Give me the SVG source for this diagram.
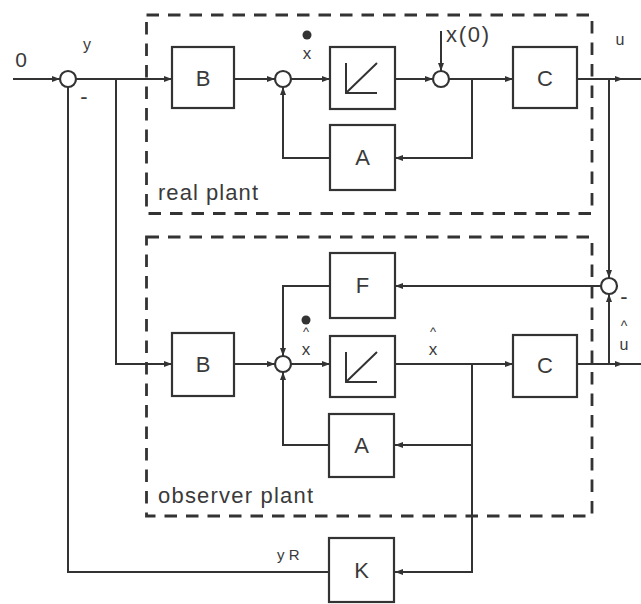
<svg xmlns="http://www.w3.org/2000/svg" width="641" height="604" viewBox="0 0 641 604">
<style>
.ln{fill:none;stroke:#333;stroke-width:2}
.bx{fill:#fff;stroke:#333;stroke-width:2.2}
.sm{fill:#fff;stroke:#333;stroke-width:2.2}
.ds{fill:none;stroke:#333;stroke-width:2.8;stroke-dasharray:12.5 9}
.t{font-family:"Liberation Sans",Arial,sans-serif;fill:#3a3a3a}
.bl{font-size:22px;text-anchor:middle}
</style>
<defs>
<marker id="ah" markerWidth="9" markerHeight="8" refX="8" refY="4" orient="auto" markerUnits="userSpaceOnUse"><path d="M0,1 L8,4 L0,7 Z" fill="#333"/></marker>
</defs>
<g id="frames">
<rect class="ds" x="146.5" y="15" width="445.5" height="198.5"/>
<rect class="ds" x="146.5" y="237" width="445.5" height="279"/>
<text class="t" x="158" y="200" font-size="22" textLength="100">real plant</text>
<text class="t" x="158" y="503" font-size="22" textLength="155">observer plant</text>
</g>
<g id="connectors" marker-end="url(#ah)">
<path class="ln" d="M13,79 H60"/>
<path class="ln" d="M76,79 H172"/>
<path class="ln" d="M116,79 V364 H172"/>
<path class="ln" d="M234,79 H275"/>
<path class="ln" d="M291,79 H330"/>
<path class="ln" d="M395,79 H433"/>
<path class="ln" d="M449,79 H513"/>
<path class="ln" d="M472,79 V158 H395"/>
<path class="ln" d="M330,158 H283 V87"/>
<path class="ln" d="M441,31 V71"/>
<path class="ln" d="M577,79 H623"/>
<path class="ln" d="M623,79 H641" marker-end="none"/>
<path class="ln" d="M609,79 V278"/>
<path class="ln" d="M601,286 H395"/>
<path class="ln" d="M330,286 H283 V356"/>
<path class="ln" d="M234,364 H275"/>
<path class="ln" d="M291,364 H330"/>
<path class="ln" d="M395,364 H513"/>
<path class="ln" d="M472,364 V572 H395"/>
<path class="ln" d="M472,445 H395"/>
<path class="ln" d="M330,445 H283 V372"/>
<path class="ln" d="M577,364 H623"/>
<path class="ln" d="M623,364 H641" marker-end="none"/>
<path class="ln" d="M609,364 V294"/>
<path class="ln" d="M329,572 H68 V87" marker-end="none"/>
</g>
<g id="sum1"><circle class="sm" cx="68" cy="79" r="8"/></g>
<g id="sum2"><circle class="sm" cx="283" cy="79" r="8"/></g>
<g id="sum3"><circle class="sm" cx="441" cy="79" r="8"/></g>
<g id="sum4"><circle class="sm" cx="609" cy="286" r="8"/></g>
<g id="sum5"><circle class="sm" cx="283" cy="364" r="8"/></g>
<g id="B1"><rect class="bx" x="172" y="47" width="62" height="61"/><text class="t bl" x="203" y="86">B</text></g>
<g id="int1"><rect class="bx" x="330" y="47" width="65" height="62"/><path class="ln" d="M346,63 V93 H377 M347,92 L377,63" stroke-width="2.4"/></g>
<g id="C1"><rect class="bx" x="513" y="47" width="64" height="61"/><text class="t bl" x="545" y="86">C</text></g>
<g id="A1"><rect class="bx" x="330" y="125" width="65" height="65"/><text class="t bl" x="362.5" y="165">A</text></g>
<g id="F"><rect class="bx" x="330" y="253" width="65" height="65"/><text class="t bl" x="362.5" y="293">F</text></g>
<g id="B2"><rect class="bx" x="172" y="333" width="62" height="63"/><text class="t bl" x="203" y="372">B</text></g>
<g id="int2"><rect class="bx" x="330" y="336" width="65" height="61"/><path class="ln" d="M346,352 V382 H377 M347,381 L377,352" stroke-width="2.4"/></g>
<g id="C2"><rect class="bx" x="513" y="335" width="64" height="62"/><text class="t bl" x="545" y="373">C</text></g>
<g id="A2"><rect class="bx" x="329" y="414" width="65" height="63"/><text class="t bl" x="361.5" y="453">A</text></g>
<g id="K"><rect class="bx" x="329" y="538" width="65" height="64"/><text class="t bl" x="361.5" y="578">K</text></g>
<g id="labels">
<text class="t" x="21" y="67" font-size="21" text-anchor="middle">0</text>
<text class="t" x="87" y="50" font-size="16" text-anchor="middle">y</text>
<text class="t" x="84" y="104" font-size="22" text-anchor="middle">-</text>
<circle cx="307" cy="35" r="4.5" fill="#333"/>
<text class="t" x="307" y="59" font-size="17" text-anchor="middle">x</text>
<text class="t" x="446" y="42" font-size="22" textLength="43">x(0)</text>
<text class="t" x="620" y="45" font-size="16" text-anchor="middle">u</text>
<text class="t" x="624" y="304" font-size="22" text-anchor="middle">-</text>
<text class="t" text-anchor="middle"><tspan x="624" y="331" font-size="14">^</tspan><tspan x="624" y="350" font-size="16">u</tspan></text>
<circle cx="306" cy="320" r="4.5" fill="#333"/>
<text class="t" x="306" y="336" font-size="13" text-anchor="middle">^</text>
<text class="t" x="306" y="355" font-size="17" text-anchor="middle">x</text>
<text class="t" x="433" y="336" font-size="13" text-anchor="middle">^</text>
<text class="t" x="433" y="355" font-size="17" text-anchor="middle">x</text>
<text class="t" x="277" y="560" font-size="15">y R</text>
</g>
</svg>
